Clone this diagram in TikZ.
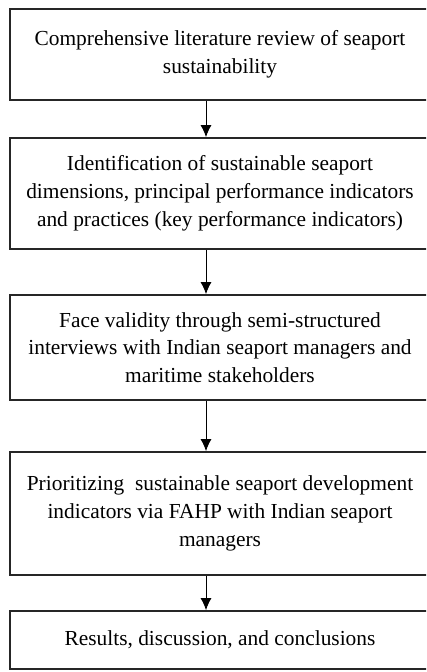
\documentclass[tikz,border=0pt]{standalone}
\usepackage{fontspec}
\setmainfont{Liberation Serif}
\usetikzlibrary{arrows.meta}

\begin{document}
\begin{tikzpicture}[x=1pt,y=-1pt,
        stage/.style={draw=black!85, line width=1.7pt, minimum width=420pt, align=center,
            font=\fontsize{21.4}{27.8}\selectfont},
        flow/.style={-{Latex[length=12pt,width=11pt]}, line width=1pt}]
        \clip (0,0) rectangle (426,672);

        % the five steps, top to bottom
        \node[stage, minimum height=91pt]  (review)   at (220,54.5)
            {Comprehensive literature review of seaport\\sustainability};
        \node[stage, minimum height=111pt] (ident)    at (220,193.5)
            {Identification of sustainable seaport\\dimensions, principal performance indicators\\and practices (key performance indicators)};
        \node[stage, minimum height=105pt] (validity) at (220,347.5)
            {Face validity through semi-structured\\interviews with Indian seaport managers and\\maritime stakeholders};
        \node[stage, minimum height=123pt] (fahp)     at (220,513.5)
            {Prioritizing\ \ sustainable seaport development\\indicators via FAHP with Indian seaport\\managers};
        \node[stage, minimum height=58pt]  (results)  at (220,640)
            {Results, discussion, and conclusions};

        \foreach \a/\b in {review/ident, ident/validity, validity/fahp, fahp/results}
            \draw[flow] ([xshift=-14pt]\a.south) -- ([xshift=-14pt]\b.north);
    \end{tikzpicture}
\end{document}
